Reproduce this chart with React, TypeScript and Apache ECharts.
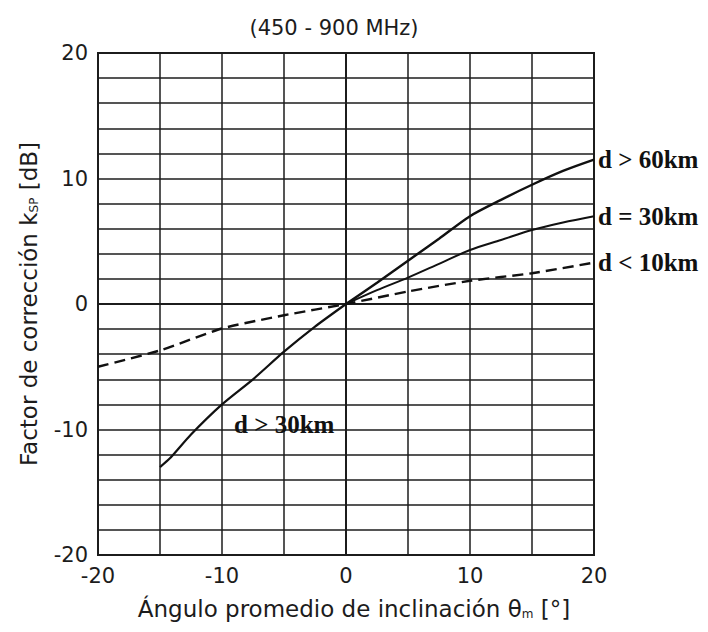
import React, { useEffect, useRef } from "react";
import * as echarts from "echarts";

// Mean inclination angle (degrees) and correction factor k_SP (dB)
const dLess10X = [-20, -15, -10, -5, 0, 5, 10, 15, 20];
const dLess10Y = [-5.0, -3.7, -1.95, -0.9, 0, 1.0, 1.85, 2.45, 3.3];

const dGt30X = [-15, -14.2, -12.5, -10, -7.5, -5, -2.5, 0];
const dGt30Y = [-13.0, -12.3, -10.4, -8.0, -6.0, -3.8, -1.8, 0];

const dGt60X = [0, 2.5, 5, 7.5, 10, 12.5, 15, 17.5, 20];
const dGt60Y = [0, 1.7, 3.45, 5.2, 7.0, 8.3, 9.5, 10.6, 11.5];

const d30X = [0, 2.5, 5, 7.5, 10, 12.5, 15, 17.5, 20];
const d30Y = [0, 1.1, 2.1, 3.2, 4.3, 5.1, 5.9, 6.5, 7.0];

const seriesNames = ["d < 10km", "d > 30km", "d > 60km", "d = 30km"];
const titleText = "(450 - 900 MHz)";
const xName = "Ángulo promedio de inclinación θ{sub|m} [°]";
const yName = "Factor de corrección k{sub|SP} [dB]";

const pairs = (xs: number[], ys: number[]) => xs.map((x, i) => [x, ys[i]]);

const SANS = "DejaVu Sans";
const SERIF = "Liberation Serif";
const INK = "#1c1c1c";

export default function App() {
  const ref = useRef<HTMLDivElement>(null);

  useEffect(() => {
    if (!ref.current) return;
    const chart = echarts.init(ref.current, undefined, { renderer: "svg" });

    const endLabel = (name: string) => ({
      show: true,
      formatter: name,
      fontFamily: SERIF,
      fontWeight: "bold" as const,
      fontSize: 25,
      color: "#111",
      distance: 4,
    });

    const subRich = {
      sub: { fontFamily: SANS, fontSize: 12, color: INK, verticalAlign: "bottom" as const, lineHeight: 12 },
    };

    chart.setOption({
      animation: false,
      backgroundColor: "#ffffff",
      grid: {
        left: 98,
        right: 114,
        top: 53,
        bottom: 77,
        show: true,
        borderColor: INK,
        borderWidth: 2,
        containLabel: false,
      },
      xAxis: {
        type: "value",
        min: -20,
        max: 20,
        interval: 5,
        name: xName,
        nameLocation: "middle",
        nameGap: 42,
        nameTextStyle: {
          fontFamily: SANS,
          fontSize: 23,
          color: INK,
          padding: [0, 0, 0, 16],
          rich: subRich,
        },
        axisLine: { show: true, lineStyle: { color: INK, width: 2 } },
        axisTick: { show: false },
        axisLabel: {
          fontFamily: SANS,
          fontSize: 21,
          color: INK,
          margin: 10,
          formatter: (v: number) => (v % 10 === 0 ? String(v) : ""),
        },
        splitLine: { show: true, lineStyle: { color: INK, width: 1.5 } },
      },
      yAxis: {
        type: "value",
        min: -20,
        max: 20,
        interval: 2,
        name: yName,
        nameLocation: "middle",
        nameRotate: 90,
        nameGap: 58,
        nameTextStyle: { fontFamily: SANS, fontSize: 23, color: INK, rich: subRich },
        axisLine: { show: true, lineStyle: { color: INK, width: 2 } },
        axisTick: { show: false },
        axisLabel: {
          fontFamily: SANS,
          fontSize: 21,
          color: INK,
          margin: 10,
          formatter: (v: number) => (v % 10 === 0 ? String(v) : ""),
        },
        splitLine: { show: true, lineStyle: { color: INK, width: 1.5 } },
      },
      graphic: [
        {
          type: "text",
          x: 334,
          y: 28,
          style: {
            text: titleText,
            fontFamily: SANS,
            fontSize: 21,
            fill: INK,
            align: "center",
            verticalAlign: "middle",
            textAlign: "center",
            textVerticalAlign: "middle",
          },
        },
        {
          type: "text",
          x: 234,
          y: 424,
          z: 10,
          style: {
            text: seriesNames[1],
            fontFamily: SERIF,
            fontWeight: "bold",
            fontSize: 25,
            fill: "#111",
            align: "left",
            verticalAlign: "middle",
            textAlign: "left",
            textVerticalAlign: "middle",
          },
        },
      ],
      series: [
        {
          name: seriesNames[0],
          type: "line",
          data: pairs(dLess10X, dLess10Y),
          showSymbol: false,
          smooth: 0.2,
          lineStyle: { color: "#111", width: 2.4, type: [11, 6] },
          endLabel: endLabel(seriesNames[0]),
          z: 5,
        },
        {
          name: seriesNames[1],
          type: "line",
          data: pairs(dGt30X, dGt30Y),
          showSymbol: false,
          smooth: 0.2,
          lineStyle: { color: "#111", width: 2.2 },
          z: 5,
        },
        {
          name: seriesNames[2],
          type: "line",
          data: pairs(dGt60X, dGt60Y),
          showSymbol: false,
          smooth: 0.3,
          lineStyle: { color: "#111", width: 2.4 },
          endLabel: endLabel(seriesNames[2]),
          z: 5,
        },
        {
          name: seriesNames[3],
          type: "line",
          data: pairs(d30X, d30Y),
          showSymbol: false,
          smooth: 0.3,
          lineStyle: { color: "#111", width: 2.0 },
          endLabel: endLabel(seriesNames[3]),
          z: 5,
        },
      ],
    });

    return () => chart.dispose();
  }, []);

  return <div ref={ref} style={{ width: 708, height: 632, position: "absolute", left: 0, top: 0 }} />;
}
